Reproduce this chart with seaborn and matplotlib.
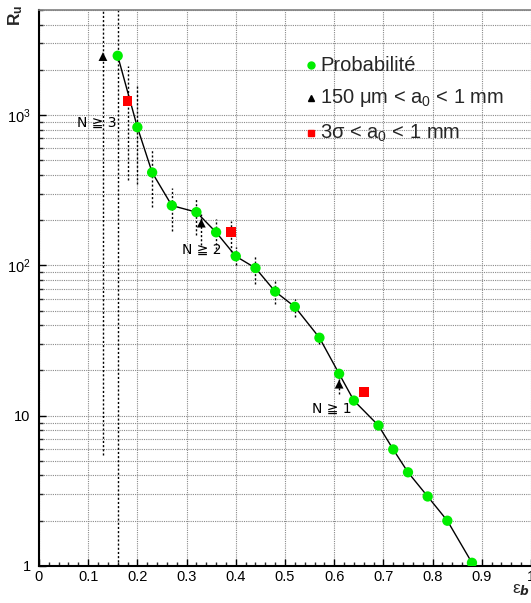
import numpy as np
import pandas as pd
import matplotlib
matplotlib.use("Agg")
import matplotlib.pyplot as plt
import matplotlib.ticker as mticker
import seaborn as sns

# ---- data ----
prob_x = [0.16, 0.20, 0.23, 0.27, 0.32, 0.36, 0.40, 0.44, 0.48, 0.52, 0.57,
          0.61, 0.64, 0.69, 0.72, 0.75, 0.79, 0.83, 0.88]
prob_y = [2480, 830, 415, 250, 226, 166, 115, 96, 67, 53, 33,
          19, 12.6, 8.6, 5.96, 4.2, 2.9, 2.0, 1.05]
prob_lo = [1, 350, 244, 169, 160, 129, 100, 75.5, 55.7, 45, 30,
           17.5, 12.6, 8.6, 5.96, 4.2, 2.9, 2.0, 1.05]
prob_hi = [5000, 1600, 587, 326, 279, 204, 132, 116, 79.5, 60, 36,
           20.5, 12.6, 8.6, 5.96, 4.2, 2.9, 2.0, 1.05]

tri_x = [0.13, 0.33, 0.61]
tri_y = [2450, 191, 16.2]
tri_lo = [5.5, 136, 14.0]
tri_hi = [5000, 220, 19.0]

sq_x = [0.18, 0.39, 0.66]
sq_y = [1240, 166, 14.4]
sq_lo = [367, 116, 13.5]
sq_hi = [2130, 197, 15.5]

labels = ["Probabilité", r"150 $\mathregular{\mu}$m < a$\mathregular{_0}$ < 1 mm",
          r"3$\mathregular{\sigma}$ < a$\mathregular{_0}$ < 1 mm"]
annot = [(0.118, 890, "N \u2267 3"), (0.33, 126, "N \u2267 2"), (0.595, 11.1, "N \u2267 1")]

xticks = [0, 0.1, 0.2, 0.3, 0.4, 0.5, 0.6, 0.7, 0.8, 0.9, 1.0]
xticklabels = ["0", "0.1", "0.2", "0.3", "0.4", "0.5", "0.6", "0.7", "0.8", "0.9", "1"]
yticks = [1, 10, 100, 1000]
yticklabels = ["1", "10", r"10$\mathregular{^2}$", r"10$\mathregular{^3}$"]

# ---- style ----
sns.set_theme(style="white")
plt.rcParams['font.family'] = ['Liberation Sans', 'DejaVu Sans']
plt.rcParams['mathtext.fontset'] = 'custom'
plt.rcParams['mathtext.rm'] = 'Liberation Sans'
plt.rcParams['mathtext.it'] = 'Liberation Sans:italic'
plt.rcParams['mathtext.bf'] = 'Liberation Sans:bold'

fig = plt.figure(figsize=(5.31, 6.03), dpi=100)
ax = fig.add_axes([0.0734, 0.0614, 0.9266, 0.9220])

ax.set_yscale('log')
ax.set_xlim(0, 1.0)
ax.set_ylim(1, 5000)

# grid
ax.set_axisbelow(True)
ax.xaxis.set_major_locator(mticker.FixedLocator(xticks))
ax.xaxis.set_minor_locator(mticker.MultipleLocator(0.02))
ax.yaxis.set_major_locator(mticker.FixedLocator(yticks))
ax.yaxis.set_minor_locator(mticker.LogLocator(base=10, subs=np.arange(2, 10)))
ax.grid(True, which='major', axis='x', color='#8a8a8a', linestyle=(0, (1, 1)), linewidth=0.8)
ax.grid(True, which='both', axis='y', color='#8a8a8a', linestyle=(0, (1, 1)), linewidth=0.8)

# error bars
ax.vlines(prob_x, prob_lo, prob_hi, colors='black', linestyles=(0, (1.5, 1.5)), linewidth=1.0, zorder=2)
ax.vlines(tri_x, tri_lo, tri_hi, colors='black', linestyles=(0, (1.5, 1.5)), linewidth=1.0, zorder=2)
ax.vlines(sq_x, sq_lo, sq_hi, colors='black', linestyles=(0, (1.5, 1.5)), linewidth=1.0, zorder=2)

dfp = pd.DataFrame({'x': prob_x, 'y': prob_y})
dft = pd.DataFrame({'x': tri_x, 'y': tri_y})
dfs = pd.DataFrame({'x': sq_x, 'y': sq_y})

sns.lineplot(data=dfp, x='x', y='y', color='black', linewidth=1.0, ax=ax, zorder=3, sort=False)
sns.scatterplot(data=dfp, x='x', y='y', marker='o', s=55, color='#00ee00', edgecolor='none', ax=ax, zorder=4)
sns.scatterplot(data=dft, x='x', y='y', marker='^', s=40, color='black', edgecolor='none', ax=ax, zorder=4)
sns.scatterplot(data=dfs, x='x', y='y', marker='s', s=50, color='#ff0000', edgecolor='none', ax=ax, zorder=4)

for ax_x, ax_y, t in annot:
    ax.text(ax_x, ax_y, t, fontsize=10, ha='center', va='center', color='black', zorder=5,
            family=['DejaVu Sans'])

# legend (manual)
leg_y = [0.901, 0.842, 0.779]
leg_m = [('o', '#00ee00', 5), ('^', 'black', 5), ('s', '#ff0000', 5)]
for yy, (m, c, ms), lab in zip(leg_y, leg_m, labels):
    ax.plot([0.553], [yy], marker=m, color=c, markersize=ms, linestyle='none',
            transform=ax.transAxes, zorder=6, clip_on=False)
    ax.text(0.572, yy, lab, transform=ax.transAxes, fontsize=14.5, ha='left', va='center', zorder=6)

# ticks
ax.set_xticklabels(xticklabels)
ax.set_yticklabels(yticklabels)
ax.tick_params(axis='both', which='major', direction='in', length=5, width=1, labelsize=10.5,
               colors='black', bottom=True, left=True, top=False, right=False)
ax.tick_params(axis='both', which='minor', direction='in', length=3, width=1,
               bottom=True, left=True, top=False, right=False)
ax.tick_params(axis='x', which='major', pad=3)
ax.tick_params(axis='y', which='major', pad=6)

for s in ['left', 'bottom']:
    ax.spines[s].set_color('black')
    ax.spines[s].set_linewidth(1.5)
ax.spines['top'].set_color('#808080')
ax.spines['top'].set_linewidth(1.2)
ax.spines['right'].set_visible(False)

ax.set_xlabel('')
ax.set_ylabel('')
fig.text(0.982, 0.008, r"$\mathregular{\varepsilon}_{\boldsymbol{b}}$", fontsize=12.5, ha='center', va='bottom')
fig.text(0.030, 0.975, r"$\mathbf{R_{u}}$", fontsize=12.5, rotation=90, ha='center', va='center')

fig.savefig('out.png', dpi=100)
